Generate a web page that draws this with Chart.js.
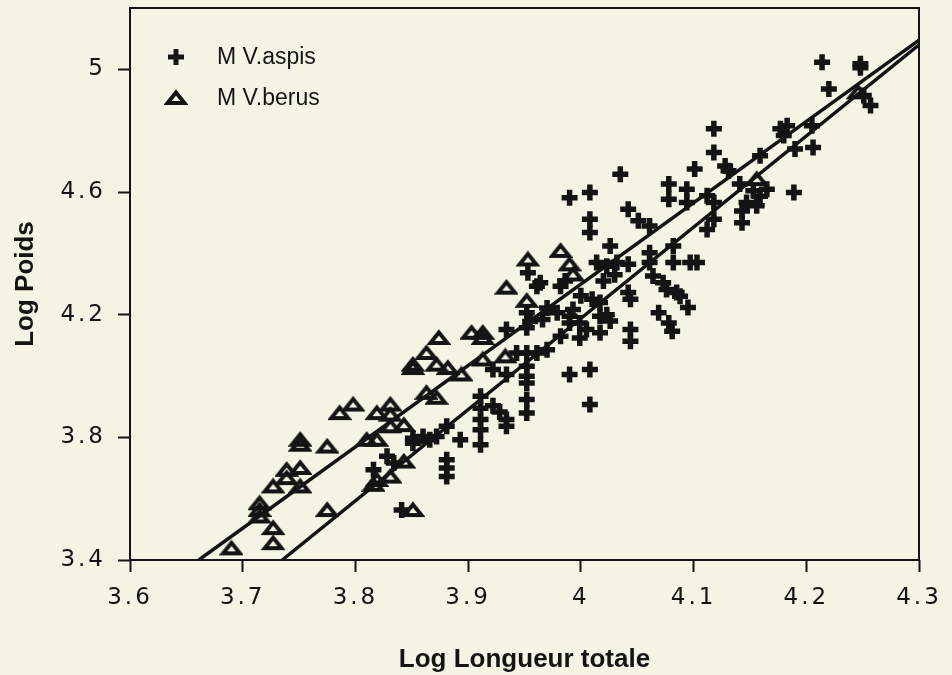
<!DOCTYPE html>
<html>
<head>
<meta charset="utf-8">
<script src="https://cdn.jsdelivr.net/npm/chart.js"></script>
<style>
html,body{margin:0;padding:0;background:#f4f4e4;}
#wrap{width:952px;height:675px;}
canvas{display:block;}
</style>
</head>
<body>
<div id="wrap"><canvas id="c" width="952" height="675"></canvas></div>
<script>
// ---- data ----
const seriesLabels = ['M V.aspis', 'M V.berus'];
const xTickValues = [3.6, 3.7, 3.8, 3.9, 4.0, 4.1, 4.2, 4.3];
const xTickLabels = ['3.6', '3.7', '3.8', '3.9', '4', '4.1', '4.2', '4.3'];
const yTickValues = [3.4, 3.8, 4.2, 4.6, 5.0];
const yTickLabels = ['3.4', '3.8', '4.2', '4.6', '5'];

const aspisX = [3.816,3.828,3.834,3.841,3.851,3.851,3.860,3.866,3.872,3.881,3.881,3.881,3.881,3.893,3.911,3.911,3.911,3.911,3.911,3.922,
  3.928,3.934,3.934,3.952,3.952,3.952,3.952,3.952,3.922,3.934,3.943,3.952,3.961,3.990,3.934,3.952,3.952,3.955,3.953,3.961,
  3.982,3.986,3.966,3.979,3.990,3.993,3.990,3.964,3.970,3.999,4.005,4.017,4.026,4.023,4.017,3.999,3.982,3.970,4.000,4.010,
  4.017,4.008,4.008,4.026,4.014,4.023,4.032,4.042,4.061,4.061,4.082,4.082,4.097,4.103,4.064,4.073,4.076,4.085,4.088,4.042,
  4.095,4.069,4.078,4.081,4.044,4.044,4.044,4.020,4.030,4.035,3.990,4.008,4.008,4.008,4.078,4.078,4.094,4.094,4.042,4.051,
  4.061,4.101,4.118,4.118,4.128,4.131,4.112,4.118,4.118,4.112,4.141,4.153,4.159,4.165,4.147,4.156,4.143,4.143,4.159,4.189,
  4.177,4.183,4.180,4.205,4.190,4.206,4.214,4.248,4.248,4.220,4.251,4.257];
const aspisY = [3.694,3.738,3.716,3.563,3.781,3.797,3.803,3.792,3.803,3.836,3.727,3.700,3.672,3.792,3.776,3.934,3.895,3.858,3.825,3.903,
  3.883,3.858,3.836,3.923,3.879,4.032,3.999,3.977,4.021,4.005,4.075,4.075,4.075,4.005,4.152,4.206,4.157,4.178,4.337,4.293,
  4.293,4.310,4.184,4.206,4.195,4.217,4.173,4.304,4.222,4.173,4.152,4.195,4.179,4.200,4.141,4.124,4.130,4.086,4.262,4.250,
  4.240,4.021,3.907,4.424,4.370,4.358,4.370,4.364,4.402,4.370,4.424,4.370,4.370,4.370,4.326,4.304,4.282,4.272,4.260,4.272,
  4.223,4.206,4.173,4.146,4.152,4.113,4.250,4.310,4.330,4.658,4.581,4.598,4.511,4.468,4.626,4.576,4.609,4.566,4.544,4.506,
  4.489,4.675,4.806,4.729,4.685,4.669,4.588,4.566,4.511,4.478,4.626,4.604,4.586,4.609,4.566,4.555,4.538,4.500,4.718,4.598,
  4.806,4.816,4.784,4.816,4.740,4.745,5.023,5.018,5.005,4.936,4.915,4.882];

const berusX = [3.690,3.727,3.727,3.715,3.715,3.715,3.727,3.739,3.739,3.751,3.751,3.751,3.751,3.775,3.775,3.786,3.798,3.819,3.810,3.819,
  3.819,3.831,3.831,3.831,3.843,3.816,3.831,3.843,3.851,3.851,3.851,3.863,3.872,3.882,3.894,3.874,3.863,3.872,3.903,3.913,
  3.913,3.913,3.933,3.952,3.953,3.982,3.990,3.993,3.934,4.156,4.246];
const berusY = [3.438,3.455,3.504,3.585,3.563,3.542,3.640,3.667,3.694,3.700,3.640,3.776,3.792,3.770,3.563,3.879,3.907,3.879,3.792,3.792,
  3.661,3.907,3.874,3.836,3.840,3.645,3.672,3.721,3.563,4.026,4.037,4.075,4.037,4.026,4.005,4.124,3.945,3.929,4.141,4.141,
  4.124,4.054,4.064,4.245,4.380,4.408,4.364,4.331,4.288,4.642,4.925];

// fitted lines (end points)
const aspisLineX = [3.735, 4.3];
const aspisLineY = [3.4, 5.08];
const berusLineX = [3.661, 4.3];
const berusLineY = [3.4, 5.095];

// ---- styling ----
const INK = '#141414';
const BG = '#f4f4e4';
const toPts = (xs, ys) => xs.map((x, i) => ({x: x, y: ys[i]}));

function makeTriangle() {
  const c = document.createElement('canvas');
  c.width = 24; c.height = 18;
  const g = c.getContext('2d');
  g.strokeStyle = INK; g.lineWidth = 4; g.lineJoin = 'miter';
  g.beginPath();
  g.moveTo(12, 3.5); g.lineTo(20.5, 14); g.lineTo(3.5, 14); g.closePath();
  g.stroke();
  return c;
}
const triImg = makeTriangle();

const bgPlugin = {
  id: 'bg',
  beforeDraw(chart) {
    const ctx = chart.ctx;
    ctx.letterSpacing = '0px';
    ctx.save();
    ctx.fillStyle = BG;
    ctx.fillRect(0, 0, chart.width, chart.height);
    ctx.restore();
  },
  afterDatasetsDraw(chart) {
    const ctx = chart.ctx, a = chart.chartArea;
    ctx.save();
    ctx.strokeStyle = INK; ctx.lineWidth = 2;
    ctx.strokeRect(a.left, a.top, a.right - a.left, a.bottom - a.top);
    ctx.restore();
    ctx.letterSpacing = '3px';
  },
  afterDraw(chart) {
    const ctx = chart.ctx, a = chart.chartArea;
    ctx.letterSpacing = '0px';
    ctx.save();
    ctx.font = '23px "Liberation Sans", Arial, sans-serif';
    ctx.fillStyle = INK; ctx.strokeStyle = INK;
    ctx.textAlign = 'left'; ctx.textBaseline = 'middle';
    const mx = a.left + 46, tx = a.left + 87;
    seriesLabels.forEach((lab, i) => {
      const y = a.top + 49 + i * 41;
      if (i === 0) {
        ctx.lineWidth = 5;
        ctx.beginPath();
        ctx.moveTo(mx - 8, y); ctx.lineTo(mx + 8, y);
        ctx.moveTo(mx, y - 8); ctx.lineTo(mx, y + 8);
        ctx.stroke();
      } else {
        ctx.drawImage(triImg, mx - 12, y - 9);
      }
      ctx.fillText(lab, tx, y + 1);
    });
    ctx.restore();
  }
};

const tickFont = {family: '"DejaVu Sans", Verdana, sans-serif', size: 23};
const titleFont = {family: '"Liberation Sans", Arial, sans-serif', size: 26, weight: 'bold'};

new Chart(document.getElementById('c'), {
  type: 'scatter',
  data: {
    datasets: [
      {label: 'aspis fit', data: toPts(aspisLineX, aspisLineY), showLine: true, borderColor: INK, borderWidth: 3.5,
       pointRadius: 0, fill: false, tension: 0},
      {label: 'berus fit', data: toPts(berusLineX, berusLineY), showLine: true, borderColor: INK, borderWidth: 3.5,
       pointRadius: 0, fill: false, tension: 0},
      {label: seriesLabels[1], data: toPts(berusX, berusY), pointStyle: triImg, pointRadius: 9,
       borderColor: INK, backgroundColor: 'rgba(0,0,0,0)'},
      {label: seriesLabels[0], data: toPts(aspisX, aspisY), pointStyle: 'cross', pointRadius: 8, borderWidth: 5.5,
       borderColor: INK, backgroundColor: INK}
    ]
  },
  options: {
    responsive: false,
    animation: false,
    events: [],
    layout: {padding: {left: 0, right: 33, top: 8, bottom: 0}, autoPadding: false},
    plugins: {legend: {display: false}, tooltip: {enabled: false}},
    scales: {
      x: {
        type: 'linear', min: 3.6, max: 4.3,
        afterBuildTicks: s => { s.ticks = xTickValues.map(v => ({value: v})); },
        afterFit: s => { s.height = 115; s.paddingLeft = 0; s.paddingRight = 0; },
        ticks: {z: 1, padding: 12, color: INK, font: tickFont, autoSkip: false, maxRotation: 0,
                callback: (v, i) => xTickLabels[i]},
        grid: {drawOnChartArea: false, drawTicks: true, tickLength: 12, tickWidth: 2, tickColor: INK},
        border: {display: false},
        title: {display: true, text: 'Log Longueur totale', color: INK, font: titleFont, padding: {top: 0, bottom: 0}}
      },
      y: {
        type: 'linear', min: 3.4, max: 5.2,
        afterBuildTicks: s => { s.ticks = yTickValues.map(v => ({value: v})); },
        afterFit: s => { s.width = 130; s.paddingTop = 0; s.paddingBottom = 0; },
        ticks: {z: 1, padding: 12, color: INK, font: tickFont, autoSkip: false,
                callback: (v, i) => yTickLabels[i]},
        grid: {drawOnChartArea: false, drawTicks: true, tickLength: 12, tickWidth: 2, tickColor: INK},
        border: {display: false},
        title: {display: true, text: 'Log Poids', color: INK, font: titleFont, padding: {top: 10, bottom: 0}}
      }
    }
  },
  plugins: [bgPlugin]
});
</script>
</body>
</html>
